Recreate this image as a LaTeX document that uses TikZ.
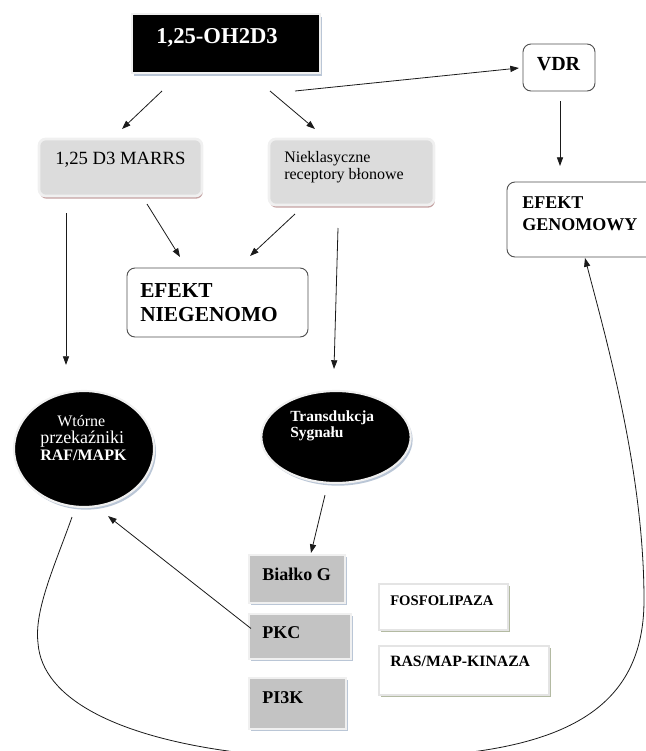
\documentclass[tikz,border=0pt]{standalone}
\usepackage{fontspec}
\setmainfont{Liberation Serif}
\usetikzlibrary{fit,shadows,shapes.geometric,arrows.meta,calc}
\definecolor{graylt}{HTML}{DCDCDC}
\definecolor{graymd}{HTML}{C3C3C3}
\definecolor{framec}{HTML}{F0F0F0}
\definecolor{framee}{HTML}{E4E4E4}
\definecolor{shblue}{HTML}{BAC6D6}
\definecolor{shpink}{HTML}{C4A2A2}
\definecolor{shgreen}{HTML}{B3BAA2}
\definecolor{edgec}{HTML}{505050}
\definecolor{linec}{HTML}{1A1A1A}
\newcommand\fsz[2]{\fontsize{#1}{#2}\selectfont}
\begin{document}
\begin{tikzpicture}[x=0.75pt,y=-0.75pt,
  conn/.style={draw=linec, line width=0.6pt, -{Triangle[length=6.5pt,width=4.6pt]}},
  fitbox/.style={inner sep=0pt, outer sep=0pt},
  darkbox/.style={fitbox, fill=black, draw=framec, line width=1.6pt,
    drop shadow={shadow xshift=1.5pt, shadow yshift=-2.2pt, fill=shblue, opacity=1}},
  softbox/.style={fitbox, fill=graylt, draw=framec, line width=2pt, rounded corners=5pt,
    drop shadow={shadow xshift=0.6pt, shadow yshift=-2pt, fill=shpink, opacity=1}},
  linebox/.style={fitbox, fill=white, draw=edgec, line width=0.7pt, rounded corners=6pt},
  protbox/.style={fitbox, fill=graymd, draw=framec, line width=2pt,
    drop shadow={shadow xshift=1.5pt, shadow yshift=-1.8pt, fill=shblue, opacity=1}},
  enzbox/.style={fitbox, fill=white, draw=framee, line width=2pt,
    drop shadow={shadow xshift=1.5pt, shadow yshift=-1.8pt, fill=shgreen, opacity=1}},
  blob/.style={ellipse, inner sep=0pt, fill=black, draw=framec, line width=1.6pt,
    drop shadow={shadow xshift=1.5pt, shadow yshift=-2pt, fill=shblue, opacity=1}},
  txt/.style={inner sep=0pt, anchor=base west},
]
\useasboundingbox (0,0) rectangle (646,751);
\clip (0,0) rectangle (646,751);

% boxes
\node[darkbox, fit={(132,14) (320,73)}] (src) {};
\node[linebox, fit={(523,44) (595,91)}] (vdr) {};
\node[softbox, fit={(39,139) (202,196)}] (marrs) {};
\node[softbox, fit={(269,139) (434,205)}] (niek) {};
\node[linebox, fit={(127,268) (308,337)}] (efn) {};
\node[linebox, fit={(507,182) (656,257)}] (efg) {};
\node[blob, minimum width=105pt, minimum height=87pt] (wt) at (84,449) {};
\node[blob, minimum width=112pt, minimum height=69pt] (trans) at (336,437) {};
\node[protbox, fit={(249,555) (345,603)}] (bialko) {};
\node[protbox, fit={(249,614) (351,659)}] (pkc) {};
\node[protbox, fit={(249,678) (346,729)}] (pi3k) {};
\node[enzbox, fit={(379,584) (508,630)}] (fosfo) {};
\node[enzbox, fit={(379,646) (549,695)}] (ras) {};

% texts
\node[txt, text=white] (src-t) at (156,43) {\fsz{17}{20}\bfseries 1,25-OH2D3};
\node[inner sep=0pt, anchor=base] (vdr-t) at (558.5,70) {\fsz{15}{18}\bfseries VDR};
\node[txt] (marrs-t) at (55,164) {\fsz{14}{16}1,25 D3 MARRS};
\node[txt] (niek-t) at (284,162) {\fsz{12}{12.75}\begin{tabular}[t]{@{}l@{}}Nieklasyczne\\receptory błonowe\end{tabular}};
\node[txt] (efn-t) at (140,297) {\fsz{16}{18}\bfseries\begin{tabular}[t]{@{}l@{}}EFEKT\\NIEGENOMO\end{tabular}};
\node[txt] (efg-t) at (522,208) {\fsz{13.5}{16.5}\bfseries\begin{tabular}[t]{@{}l@{}}EFEKT\\GENOMOWY\end{tabular}};
\node[txt, text=white] (wt-t) at (40,426) {\fsz{12}{12.6}\begin{tabular}[t]{@{}l@{}}\hspace*{12.75pt}Wtórne\\{\fsz{13.5}{12.6}przekaźniki}\\\textbf{RAF/MAPK}\end{tabular}};
\node[txt, text=white] (trans-t) at (290,421) {\fsz{11.6}{12.5}\bfseries\begin{tabular}[t]{@{}l@{}}Transdukcja\\Sygnału\end{tabular}};
\node[txt] (bialko-t) at (262,580) {\fsz{13.5}{16}\bfseries Białko G};
\node[txt] (pkc-t) at (262,638) {\fsz{13.5}{16}\bfseries PKC};
\node[txt] (pi3k-t) at (262,703) {\fsz{13.5}{16}\bfseries PI3K};
\node[txt] (fosfo-t) at (390,605) {\fsz{11}{13}\bfseries FOSFOLIPAZA};
\node[txt] (ras-t) at (390,666) {\fsz{11.8}{13}\bfseries RAS/MAP-KINAZA};

% connectors
\draw[conn] ($(src.south)+(-64,18)$) -- ($(marrs.north)+(1.5,-10)$);
\draw[conn] ($(src.south)+(44,18)$) -- ($(niek.north)+(-36.5,-10)$);
\draw[conn] ($(src.south)+(69,18)$) -- ($(vdr.west)+(-4,0.5)$);
\draw[conn] ($(vdr.south)+(1,10)$) -- ($(efg.north)+(-21.5,-16)$);
\draw[conn] ($(marrs.south)+(26.5,8)$) -- ($(efn.north)+(-37.5,-11)$);
\draw[conn] ($(niek.south)+(-56.5,9)$) -- ($(efn.north)+(32.5,-12)$);
\draw[conn] ($(marrs.south)+(-54.5,17)$) -- ($(wt.north)+(-18,-25)$);
\draw[conn] ($(niek.south)+(-13.5,23)$) -- ($(trans.north)+(-2,-21)$);
\draw[conn] ($(trans.south)+(-11,11)$) -- ($(bialko.north)+(14,-2)$);
\draw[conn] ($(pkc.west)+(2,-8)$) -- ($(wt.south)+(24,8)$);
\draw[conn] ($(wt.south)+(-12,9)$) .. controls (55,565) and (34,610) .. (38,643)
  .. controls (42,700) and (120,736) .. (228,751)
  .. controls (300,762) and (400,762) .. (479,751)
  .. controls (590,735) and (644,690) .. (644,600)
  .. controls (644,470) and (605,335) .. ($(efg.south)+(3.5,1)$);
\end{tikzpicture}
\end{document}
